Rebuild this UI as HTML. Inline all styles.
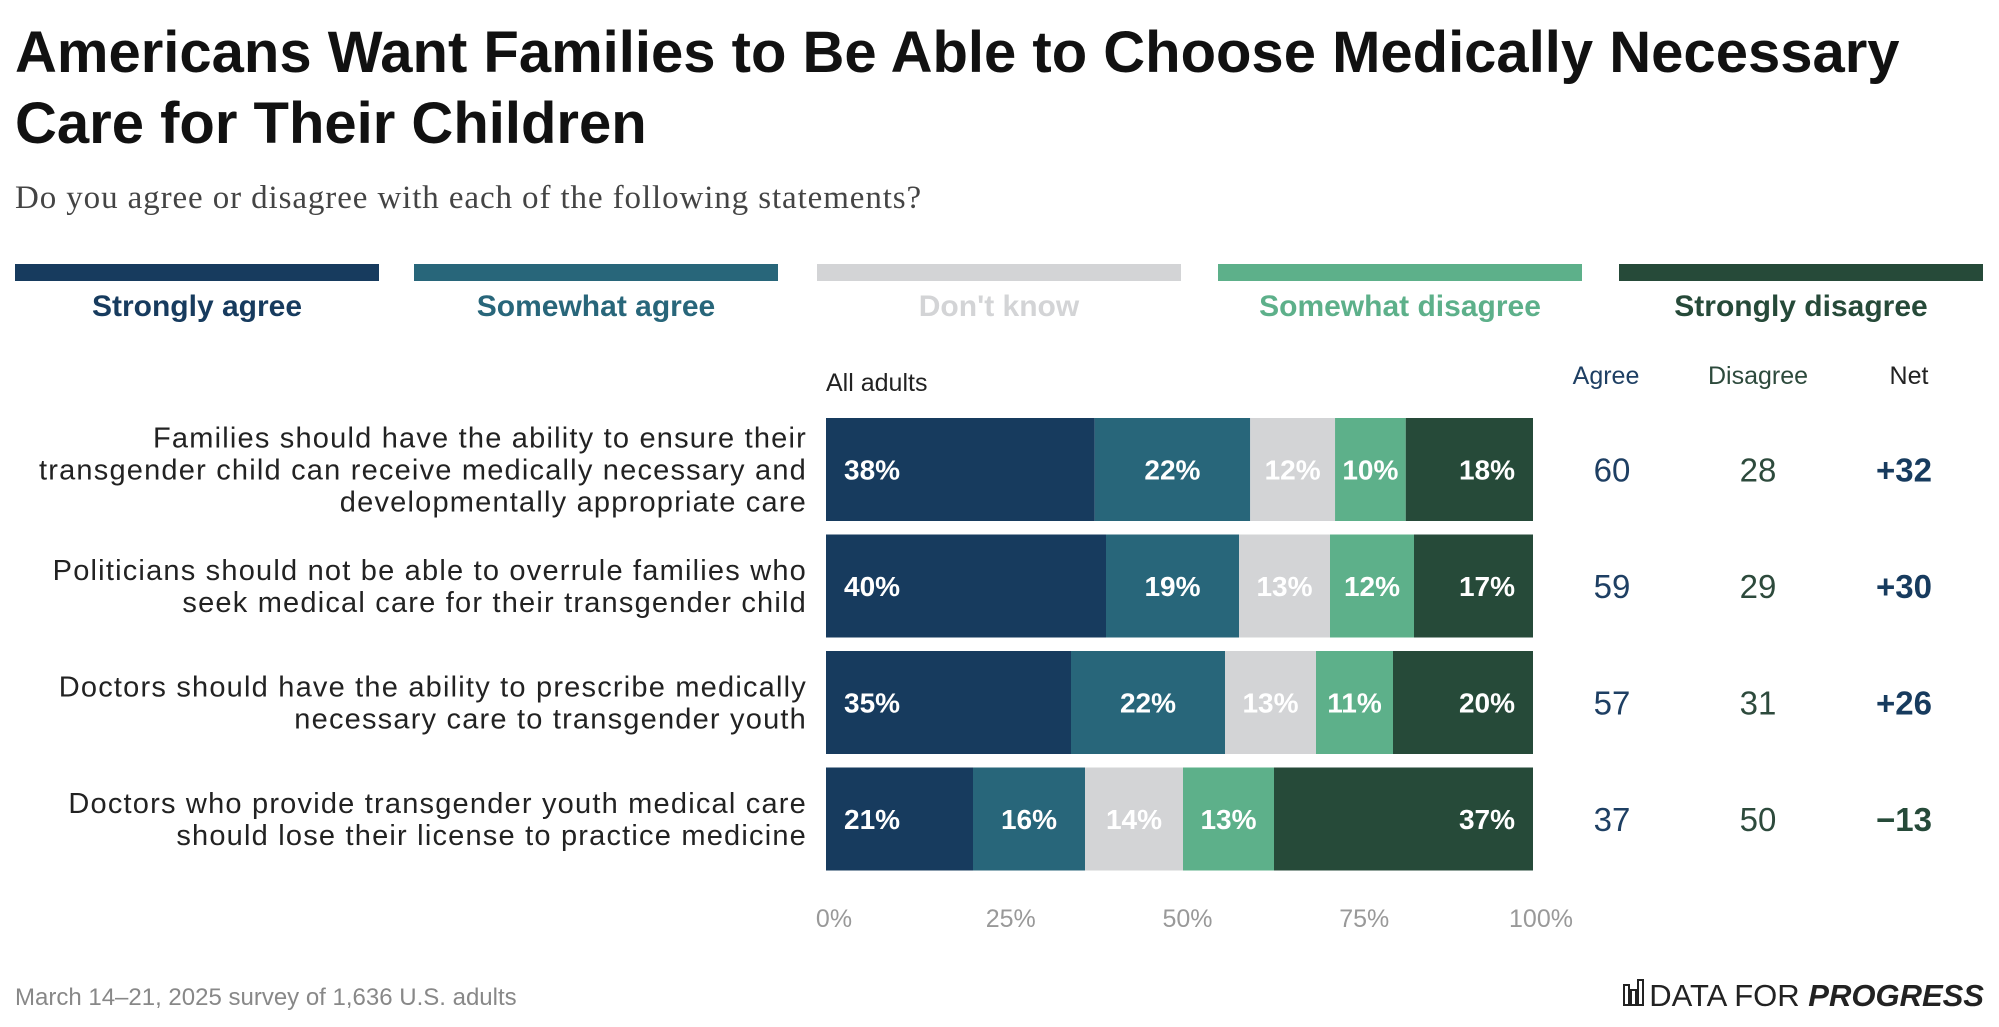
<!DOCTYPE html>
<html><head><meta charset="utf-8"><style>
body{margin:0;background:#fff;}
svg{display:block;font-family:"Liberation Sans",sans-serif;}
</style></head><body>
<svg id="c" width="1999" height="1027" viewBox="0 0 1999 1027">
<text x="15" y="72" font-size="58" font-weight="bold" fill="#111">Americans Want Families to Be Able to Choose Medically Necessary</text>
<text x="15" y="143" font-size="58" font-weight="bold" fill="#111">Care for Their Children</text>
<text x="15" y="208" font-size="33" letter-spacing="0.9" fill="#444" font-family="Liberation Serif, serif">Do you agree or disagree with each of the following statements?</text>
<g id="legend"></g>
<text x="826" y="391" font-size="25" fill="#222">All adults</text>
<text x="1606" y="384" font-size="25" fill="#1e3f63" text-anchor="middle">Agree</text>
<text x="1758" y="384" font-size="25" fill="#2d4a3c" text-anchor="middle">Disagree</text>
<text x="1909" y="384" font-size="25" fill="#222" text-anchor="middle">Net</text>
<g id="rows"></g>
<g id="ticks"></g>
<text x="15" y="1005" font-size="24" fill="#888">March 14–21, 2025 survey of 1,636 U.S. adults</text>
<g>
<rect x="1624" y="985" width="5" height="20" fill="none" stroke="#222" stroke-width="2"/>
<rect x="1631" y="990" width="5" height="15" fill="none" stroke="#222" stroke-width="2"/>
<rect x="1638" y="980" width="5" height="25" fill="none" stroke="#222" stroke-width="2"/>
<text x="1984" y="1006" font-size="31" fill="#222" text-anchor="end">DATA FOR <tspan font-weight="bold" font-style="italic">PROGRESS</tspan></text>
</g>
</svg>
<script>
const categories = [
 ["Families should have the ability to ensure their","transgender child can receive medically necessary and","developmentally appropriate care"],
 ["Politicians should not be able to overrule families who","seek medical care for their transgender child"],
 ["Doctors should have the ability to prescribe medically","necessary care to transgender youth"],
 ["Doctors who provide transgender youth medical care","should lose their license to practice medicine"]
];
const seriesNames = ["Strongly agree","Somewhat agree","Don't know","Somewhat disagree","Strongly disagree"];
const stronglyAgree = [38,40,35,21];
const somewhatAgree = [22,19,22,16];
const dontKnow = [12,13,13,14];
const somewhatDisagree = [10,12,11,13];
const stronglyDisagree = [18,17,20,37];
const agreeTotals = [60,59,57,37];
const disagreeTotals = [28,29,31,50];
const netValues = ["+32","+30","+26","−13"];
const tickValues = [0,25,50,75,100];

const colors = ["#173b5e","#28667a","#d3d4d6","#5db08a","#264a39"];
const NS="http://www.w3.org/2000/svg";
function mk(tag,attrs,parent,txt){const e=document.createElementNS(NS,tag);for(const k in attrs)e.setAttribute(k,attrs[k]);if(txt!==undefined)e.textContent=txt;parent.appendChild(e);return e;}
const x0=826,x1=1533;
const xs=v=>x0+(x1-x0)*v/100;
const rowTop=i=>418+i*116.5, barH=103;

const lg=document.getElementById('legend');
const lgX=[15,414,817,1218,1619], lgW=364;
seriesNames.forEach((n,i)=>{
 const r=mk('rect',{x:lgX[i],y:264,width:lgW,height:17,fill:colors[i]},lg);
 
 
 const t=mk('text',{x:lgX[i]+lgW/2,y:316,'font-size':30,'font-weight':'bold','text-anchor':'middle',fill:colors[i]},lg,n);
 
 
});

const rows=document.getElementById('rows');
const series=[stronglyAgree,somewhatAgree,dontKnow,somewhatDisagree,stronglyDisagree];
categories.forEach((lines,i)=>{
 const top=rowTop(i), cy=top+barH/2;
 const lh=32, startY=cy-(lines.length-1)*lh/2+10;
 lines.forEach((ln,j)=>{
  const t=mk('text',{x:807,y:startY+j*lh,'font-size':29,'letter-spacing':1.2,'text-anchor':'end',fill:'#222'},rows,ln);
  
  
 });
 const total=series.reduce((s,a)=>s+a[i],0);
 let acc=0;
 series.forEach((s,k)=>{
  const v=s[i], a=xs(acc*100/total), b=xs((acc+v)*100/total);
  const r=mk('rect',{x:a,y:top,width:b-a,height:barH,fill:colors[k]},rows);
  
  
  let tx,anchor;
  if(k===0){tx=a+18;anchor='start';}else if(k===4){tx=b-18;anchor='end';}else{tx=(a+b)/2;anchor='middle';}
  const t=mk('text',{x:tx,y:cy+10,'font-size':28,'font-weight':'bold','text-anchor':anchor,fill:'#fff'},rows,v+'%');
  
  
  acc+=v;
 });
 const a=mk('text',{x:1612,y:cy+12,'font-size':33,'text-anchor':'middle',fill:'#1e3f63'},rows,agreeTotals[i]);
 
 
 const d=mk('text',{x:1758,y:cy+12,'font-size':33,'text-anchor':'middle',fill:'#2d4a3c'},rows,disagreeTotals[i]);
 
 
 const neg=netValues[i].startsWith('−');
 const n=mk('text',{x:1904,y:cy+12,'font-size':33,'font-weight':'bold','text-anchor':'middle',fill:neg?'#264a39':'#173b5e'},rows,netValues[i]);
 
 
});

const tk=document.getElementById('ticks');
tickValues.forEach(v=>{
 const t=mk('text',{x:xs(v)+8,y:927,'font-size':25,'text-anchor':'middle',fill:'#999'},tk,v+'%');
 
 
});
</script>
</body></html>
